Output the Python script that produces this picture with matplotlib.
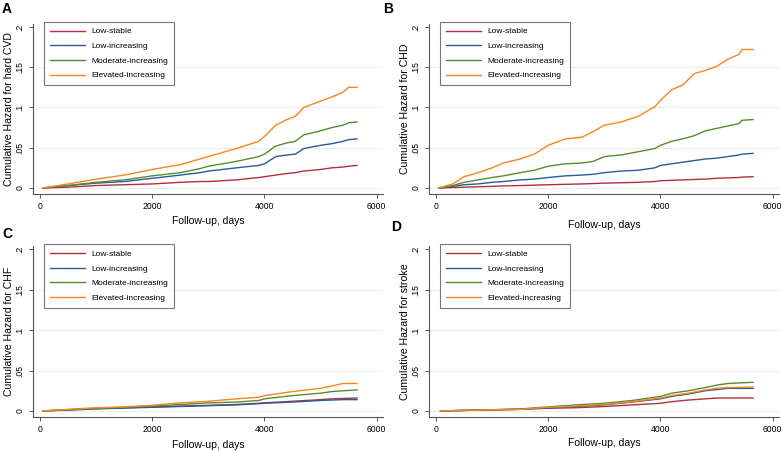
import matplotlib
matplotlib.use("Agg")
import matplotlib.pyplot as plt

plt.rcParams['font.family'] = ['Liberation Sans', 'DejaVu Sans']

groups = ['Low-stable', 'Low-increasing', 'Moderate-increasing', 'Elevated-increasing']
colors = ['#b0303c', '#2a5b9a', '#5a8a2e', '#f5871f']

# panel A: hard CVD
a_days = [50, 500, 1000, 1500, 2000, 2500, 2850, 3000, 3500, 3900, 4000, 4200,
          4400, 4550, 4700, 5000, 5200, 5400, 5500, 5650]
a_low_stable = [0, 0.001, 0.003, 0.004, 0.005, 0.007, 0.008, 0.008, 0.010, 0.013, 0.014,
                0.016, 0.018, 0.019, 0.021, 0.023, 0.025, 0.026, 0.027, 0.028]
a_low_inc = [0, 0.003, 0.006, 0.008, 0.012, 0.016, 0.019, 0.021, 0.025, 0.028, 0.030,
             0.039, 0.041, 0.042, 0.049, 0.053, 0.055, 0.058, 0.060, 0.061]
a_mod_inc = [0, 0.003, 0.007, 0.010, 0.015, 0.019, 0.024, 0.027, 0.033, 0.039, 0.042,
             0.052, 0.056, 0.058, 0.066, 0.071, 0.075, 0.078, 0.081, 0.082]
a_elev_inc = [0, 0.005, 0.011, 0.016, 0.023, 0.029, 0.036, 0.039, 0.049, 0.058, 0.064,
              0.078, 0.085, 0.089, 0.100, 0.108, 0.113, 0.119, 0.125, 0.125]

# panel B: CHD
b_days = [50, 300, 500, 750, 1000, 1200, 1500, 1750, 2000, 2300, 2600, 2800, 3000,
          3300, 3600, 3900, 4000, 4200, 4400, 4600, 4800, 5000, 5200, 5400, 5450, 5650]
b_low_stable = [0, 0.0005, 0.001, 0.0015, 0.002, 0.0025, 0.003, 0.0035, 0.004, 0.0045,
                0.005, 0.0055, 0.006, 0.0065, 0.007, 0.008, 0.009, 0.0095, 0.010, 0.0105,
                0.011, 0.012, 0.0125, 0.013, 0.0135, 0.014]
b_low_inc = [0, 0.002, 0.004, 0.005, 0.007, 0.008, 0.010, 0.011, 0.013, 0.015, 0.016,
             0.017, 0.019, 0.021, 0.022, 0.025, 0.028, 0.030, 0.032, 0.034, 0.036, 0.037,
             0.039, 0.041, 0.042, 0.043]
b_mod_inc = [0, 0.003, 0.007, 0.010, 0.013, 0.015, 0.019, 0.022, 0.027, 0.030, 0.031,
             0.033, 0.039, 0.041, 0.045, 0.049, 0.053, 0.058, 0.061, 0.065, 0.071, 0.074,
             0.077, 0.080, 0.084, 0.085]
b_elev_inc = [0, 0.005, 0.014, 0.019, 0.025, 0.031, 0.036, 0.042, 0.053, 0.061, 0.063,
              0.070, 0.078, 0.082, 0.089, 0.101, 0.109, 0.122, 0.128, 0.142, 0.146, 0.151,
              0.160, 0.166, 0.172, 0.172]

# panel C: CHF
c_days = [50, 500, 1000, 1500, 2000, 2500, 3000, 3500, 3900, 4000, 4500, 5000, 5200, 5400, 5650]
c_low_stable = [0, 0.0015, 0.003, 0.004, 0.005, 0.006, 0.007, 0.008, 0.0095, 0.010, 0.012,
                0.014, 0.015, 0.0155, 0.016]
c_low_inc = [0, 0.001, 0.0025, 0.0035, 0.0045, 0.0055, 0.0065, 0.0075, 0.009, 0.0095,
             0.011, 0.013, 0.0135, 0.014, 0.014]
c_mod_inc = [0, 0.0015, 0.003, 0.0045, 0.006, 0.008, 0.010, 0.011, 0.013, 0.015, 0.019,
             0.022, 0.024, 0.025, 0.026]
c_elev_inc = [0, 0.002, 0.004, 0.005, 0.007, 0.010, 0.012, 0.015, 0.017, 0.019, 0.024,
              0.028, 0.031, 0.034, 0.034]

# panel D: stroke
d_days = [80, 1000, 1500, 2000, 2500, 3000, 3500, 4000, 4200, 4500, 4800, 5000, 5200, 5650]
d_low_stable = [0, 0.0012, 0.002, 0.0033, 0.004, 0.0055, 0.0075, 0.0095, 0.0115, 0.0135,
                0.015, 0.016, 0.016, 0.016]
d_low_inc = [0, 0.0015, 0.002, 0.004, 0.0055, 0.0075, 0.011, 0.015, 0.018, 0.021, 0.025,
             0.0265, 0.028, 0.028]
d_mod_inc = [0, 0.0015, 0.0025, 0.005, 0.0075, 0.0095, 0.013, 0.018, 0.022, 0.025, 0.029,
             0.032, 0.034, 0.0355]
d_elev_inc = [0, 0.0015, 0.002, 0.0045, 0.006, 0.008, 0.0115, 0.016, 0.019, 0.022, 0.026,
              0.028, 0.029, 0.0295]

panels = [
    ('A', 'Cumulative Hazard for hard CVD', a_days,
     [a_low_stable, a_low_inc, a_mod_inc, a_elev_inc]),
    ('B', 'Cumulative Hazard for CHD', b_days,
     [b_low_stable, b_low_inc, b_mod_inc, b_elev_inc]),
    ('C', 'Cumulative Hazard for CHF', c_days,
     [c_low_stable, c_low_inc, c_mod_inc, c_elev_inc]),
    ('D', 'Cumulative Hazard for stroke', d_days,
     [d_low_stable, d_low_inc, d_mod_inc, d_elev_inc]),
]

W, H = 782, 451
fig = plt.figure(figsize=(W / 100, H / 100), dpi=100)

# axes boxes in pixels: left, top, right, bottom
boxes = [(33, 23.5, 383, 194), (429, 23.5, 779, 194),
         (33, 246, 383, 417), (429, 246, 779, 417)]
letter_pos = [(2, 2), (383, 2), (2, 227), (391, 220)]
xlabel_pad = [3.0, 6.0, 4.0, 2.5]

for i, (letter, ylab, days, series) in enumerate(panels):
    l, t, r, b = boxes[i]
    ax = fig.add_axes([l / W, 1 - b / H, (r - l) / W, (b - t) / H])
    for s, name, c in zip(series, groups, colors):
        ax.plot(days, s, color=c, lw=1.0, label=name)
    ax.set_xlim(-125, 6112)
    ax.set_ylim(-0.0075, 0.2043)
    ax.set_xticks([0, 2000, 4000, 6000])
    ax.set_yticks([0, 0.05, 0.1, 0.15, 0.2])
    ax.set_yticklabels(['0', '.05', '.1', '.15', '.2'], rotation=90, va='center')
    for g in [0, 0.05, 0.1, 0.15]:
        ax.axhline(g, color='#ebebeb', lw=0.7, zorder=0)
    for side in ['top', 'right']:
        ax.spines[side].set_visible(False)
    for side in ['left', 'bottom']:
        ax.spines[side].set_color('#555555')
        ax.spines[side].set_linewidth(0.8)
    ax.tick_params(labelsize=6.2, length=3, width=0.7, color='#555555', pad=3)
    ax.set_xlabel('Follow-up, days', fontsize=7.5, labelpad=xlabel_pad[i])
    ax.set_ylabel(ylab, fontsize=7.6, labelpad=1.5)
    leg = ax.legend(loc='upper left', bbox_to_anchor=(0.031, 1.01), fontsize=6.0,
                    frameon=True, fancybox=False, handlelength=4.2, handletextpad=0.85,
                    labelspacing=0.82, borderpad=0.7, borderaxespad=0)
    leg.get_frame().set_edgecolor('#555555')
    leg.get_frame().set_linewidth(0.8)
    fig.text(letter_pos[i][0] / W, 1 - letter_pos[i][1] / H, letter,
             fontsize=10, fontweight='bold', va='top', ha='left')

fig.savefig('out.png', dpi=100)
